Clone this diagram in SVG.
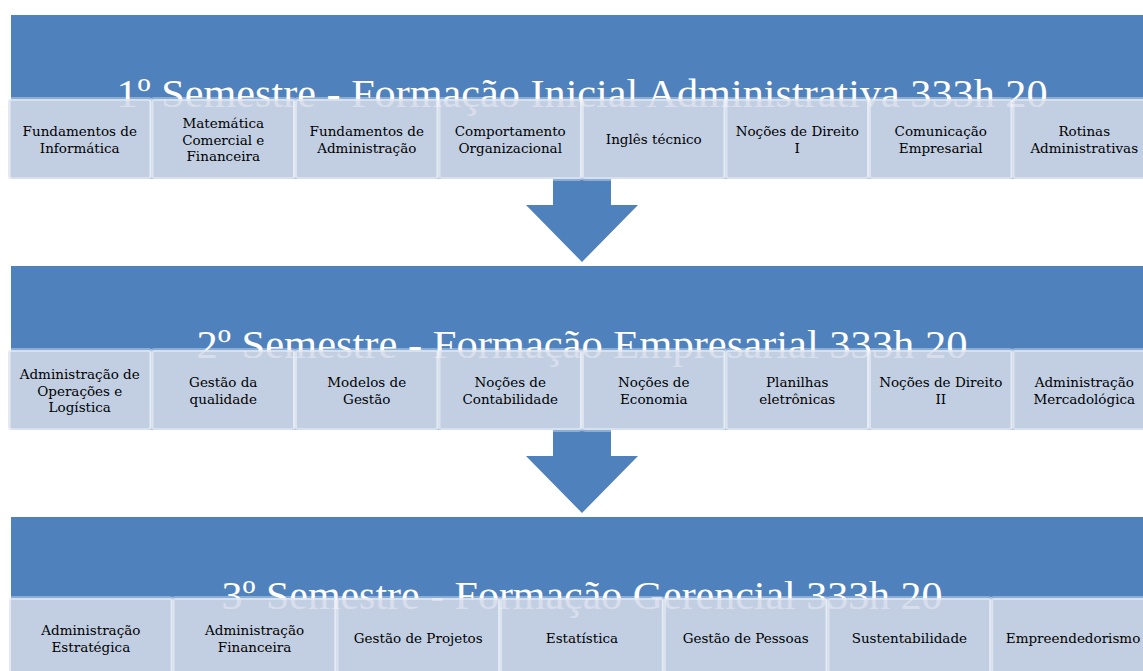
<svg xmlns="http://www.w3.org/2000/svg" width="1143" height="671" viewBox="0 0 1143 671">
<style>
.band{fill:#4F81BD}
.title{font-family:"Liberation Serif","Times New Roman",serif;font-size:41px;fill:#ffffff;text-anchor:middle}
.card{fill:#D3DAE8;fill-opacity:0.88;stroke:#ffffff;stroke-opacity:0.35;stroke-width:4}
.lbl{font-family:"DejaVu Serif",serif;font-size:13.5px;fill:#000000;text-anchor:middle}
.arrow{fill:#4F81BD}
</style>
<rect width="1143" height="671" fill="#ffffff"/>
<g id="connectors">
<polygon class="arrow" points="553,175 611,175 611,205 638,205 582,262 526,205 553,205"/>
<polygon class="arrow" points="553,426 611,426 611,456 638,456 582,513 526,456 553,456"/>
</g>
<g id="sem1">
<rect class="band" x="11" y="15" width="1140" height="164"/>
<text class="title" x="582" y="107" textLength="931" lengthAdjust="spacingAndGlyphs">1º Semestre - Formação Inicial Administrativa 333h 20</text>
</g>
<g id="sem1-cards">
<g id="c1-1"><rect class="card" x="8" y="99" width="143.5" height="80" rx="3"/><text class="lbl" x="79.75" y="136">Fundamentos de<tspan x="79.75" dy="17">Informática</tspan></text></g>
<g id="c1-2"><rect class="card" x="151.5" y="99" width="143.5" height="80" rx="3"/><text class="lbl" x="223.25" y="128">Matemática<tspan x="223.25" dy="16.5">Comercial e</tspan><tspan x="223.25" dy="16.5">Financeira</tspan></text></g>
<g id="c1-3"><rect class="card" x="295" y="99" width="143.5" height="80" rx="3"/><text class="lbl" x="366.75" y="136">Fundamentos de<tspan x="366.75" dy="17">Administração</tspan></text></g>
<g id="c1-4"><rect class="card" x="438.5" y="99" width="143.5" height="80" rx="3"/><text class="lbl" x="510.25" y="136">Comportamento<tspan x="510.25" dy="17">Organizacional</tspan></text></g>
<g id="c1-5"><rect class="card" x="582" y="99" width="143.5" height="80" rx="3"/><text class="lbl" x="653.75" y="144">Inglês técnico</text></g>
<g id="c1-6"><rect class="card" x="725.5" y="99" width="143.5" height="80" rx="3"/><text class="lbl" x="797.25" y="136">Noções de Direito<tspan x="797.25" dy="17">I</tspan></text></g>
<g id="c1-7"><rect class="card" x="869" y="99" width="143.5" height="80" rx="3"/><text class="lbl" x="940.75" y="136">Comunicação<tspan x="940.75" dy="17">Empresarial</tspan></text></g>
<g id="c1-8"><rect class="card" x="1012.5" y="99" width="143.5" height="80" rx="3"/><text class="lbl" x="1084.25" y="136">Rotinas<tspan x="1084.25" dy="17">Administrativas</tspan></text></g>
</g>
<g id="sem2">
<rect class="band" x="11" y="266" width="1140" height="164"/>
<text class="title" x="582" y="358" textLength="771" lengthAdjust="spacingAndGlyphs">2º Semestre - Formação Empresarial 333h 20</text>
</g>
<g id="sem2-cards">
<g id="c2-1"><rect class="card" x="8" y="350" width="143.5" height="80" rx="3"/><text class="lbl" x="79.75" y="379">Administração de<tspan x="79.75" dy="16.5">Operações e</tspan><tspan x="79.75" dy="16.5">Logística</tspan></text></g>
<g id="c2-2"><rect class="card" x="151.5" y="350" width="143.5" height="80" rx="3"/><text class="lbl" x="223.25" y="387">Gestão da<tspan x="223.25" dy="17">qualidade</tspan></text></g>
<g id="c2-3"><rect class="card" x="295" y="350" width="143.5" height="80" rx="3"/><text class="lbl" x="366.75" y="387">Modelos de<tspan x="366.75" dy="17">Gestão</tspan></text></g>
<g id="c2-4"><rect class="card" x="438.5" y="350" width="143.5" height="80" rx="3"/><text class="lbl" x="510.25" y="387">Noções de<tspan x="510.25" dy="17">Contabilidade</tspan></text></g>
<g id="c2-5"><rect class="card" x="582" y="350" width="143.5" height="80" rx="3"/><text class="lbl" x="653.75" y="387">Noções de<tspan x="653.75" dy="17">Economia</tspan></text></g>
<g id="c2-6"><rect class="card" x="725.5" y="350" width="143.5" height="80" rx="3"/><text class="lbl" x="797.25" y="387">Planilhas<tspan x="797.25" dy="17">eletrônicas</tspan></text></g>
<g id="c2-7"><rect class="card" x="869" y="350" width="143.5" height="80" rx="3"/><text class="lbl" x="940.75" y="387">Noções de Direito<tspan x="940.75" dy="17">II</tspan></text></g>
<g id="c2-8"><rect class="card" x="1012.5" y="350" width="143.5" height="80" rx="3"/><text class="lbl" x="1084.25" y="387">Administração<tspan x="1084.25" dy="17">Mercadológica</tspan></text></g>
</g>
<g id="sem3">
<rect class="band" x="11" y="517" width="1140" height="164"/>
<text class="title" x="582" y="609" textLength="721" lengthAdjust="spacingAndGlyphs">3º Semestre - Formação Gerencial 333h 20</text>
</g>
<g id="sem3-cards">
<g id="c3-1"><rect class="card" x="9" y="598" width="163.7" height="80" rx="3"/><text class="lbl" x="90.85" y="635">Administração<tspan x="90.85" dy="17">Estratégica</tspan></text></g>
<g id="c3-2"><rect class="card" x="172.7" y="598" width="163.7" height="80" rx="3"/><text class="lbl" x="254.55" y="635">Administração<tspan x="254.55" dy="17">Financeira</tspan></text></g>
<g id="c3-3"><rect class="card" x="336.4" y="598" width="163.7" height="80" rx="3"/><text class="lbl" x="418.25" y="643">Gestão de Projetos</text></g>
<g id="c3-4"><rect class="card" x="500.1" y="598" width="163.7" height="80" rx="3"/><text class="lbl" x="581.95" y="643">Estatística</text></g>
<g id="c3-5"><rect class="card" x="663.8" y="598" width="163.7" height="80" rx="3"/><text class="lbl" x="745.65" y="643">Gestão de Pessoas</text></g>
<g id="c3-6"><rect class="card" x="827.5" y="598" width="163.7" height="80" rx="3"/><text class="lbl" x="909.35" y="643">Sustentabilidade</text></g>
<g id="c3-7"><rect class="card" x="991.2" y="598" width="163.7" height="80" rx="3"/><text class="lbl" x="1073.05" y="643">Empreendedorismo</text></g>
</g>
</svg>
